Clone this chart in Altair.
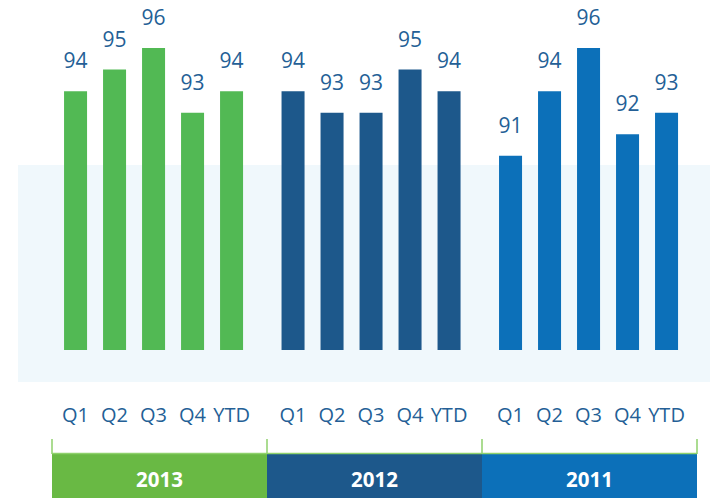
import altair as alt
import pandas as pd

years = ["2013", "2012", "2011"]
quarters = ["Q1", "Q2", "Q3", "Q4", "YTD"]
values_2013 = [94, 95, 96, 93, 94]
values_2012 = [94, 93, 93, 95, 94]
values_2011 = [91, 94, 96, 92, 93]
bar_colors = ["#52b954", "#1d588b", "#0c70b9"]
box_colors = ["#69b944", "#1d588b", "#0c70b9"]

rows = []
for y, vals in zip(years, [values_2013, values_2012, values_2011]):
    for q, v in zip(quarters, vals):
        rows.append({"year": y, "q": q, "value": v})
df = pd.DataFrame(rows)
ydf = pd.DataFrame({"year": years})

FONT = "Open Sans"
TXT = "#245f96"

x_bar = alt.X("year:N", sort=years, axis=None,
              scale=alt.Scale(range=[0, 645], paddingInner=0.1034,
                              paddingOuter=0.0345, align=0.27))
x_off = alt.XOffset("q:N", sort=quarters,
                    scale=alt.Scale(paddingInner=0.41, paddingOuter=0.205))
y_val = alt.Y("value:Q", axis=None,
              scale=alt.Scale(domain=[82, 96], range=[350, 48], nice=False, zero=False))

base = alt.Chart(df)

band_bg = alt.Chart(pd.DataFrame({"a": [0]})).mark_rect(color="#f0f8fc").encode(
    x=alt.value(-34), x2=alt.value(658), y=alt.value(165), y2=alt.value(382)
)

bars = base.mark_bar().encode(
    x=x_bar, xOffset=x_off, y=y_val, y2=alt.datum(82),
    color=alt.Color("year:N", sort=years, legend=None,
                    scale=alt.Scale(domain=years, range=bar_colors)),
)

labels = base.mark_text(font=FONT, fontSize=21, color=TXT, baseline="alphabetic", dy=-23).encode(
    x=x_bar, xOffset=x_off, y=y_val, text=alt.Text("value:Q")
)

qlabels = base.mark_text(font=FONT, fontSize=20, color=TXT, baseline="alphabetic").encode(
    x=x_bar, xOffset=x_off, y=alt.value(422), text="q:N"
)

x_box = alt.X("year:N", sort=years, axis=None,
              scale=alt.Scale(range=[0, 645], paddingInner=0, paddingOuter=0))

boxes = alt.Chart(ydf).mark_rect().encode(
    x=x_box, y=alt.value(454), y2=alt.value(498),
    color=alt.Color("year:N", sort=years, legend=None,
                    scale=alt.Scale(domain=years, range=box_colors)),
)

top_line = alt.Chart(pd.DataFrame({"a": [0]})).mark_rule(color="#8fd16c", strokeWidth=1.5).encode(
    x=alt.value(0), x2=alt.value(645), y=alt.value(453.5)
)

ticks = alt.Chart(ydf).mark_rule(color="#8fd16c", strokeWidth=1.5).encode(
    x=alt.X("year:N", sort=years, axis=None, bandPosition=0,
            scale=alt.Scale(range=[0, 645], paddingInner=0, paddingOuter=0)),
    y=alt.value(439), y2=alt.value(454),
)
end_tick = alt.Chart(ydf).transform_filter(alt.datum.year == "2011").mark_rule(
    color="#8fd16c", strokeWidth=1.5).encode(
    x=alt.X("year:N", sort=years, axis=None, bandPosition=1,
            scale=alt.Scale(range=[0, 645], paddingInner=0, paddingOuter=0)),
    y=alt.value(439), y2=alt.value(454),
)

year_text = alt.Chart(ydf).mark_text(font=FONT, fontSize=20.5, fontWeight="bold",
                                     color="white", baseline="alphabetic").encode(
    x=x_box, y=alt.value(487), text="year:N"
)

chart = alt.layer(
    band_bg, bars, labels, qlabels, boxes, top_line, ticks, end_tick, year_text
).resolve_scale(x="independent", color="independent").properties(
    width=645, height=498,
    padding={"left": 52, "right": 13, "top": 0, "bottom": 0},
    autosize=alt.AutoSizeParams(type="none"),
).configure_view(stroke=None)

chart.save("out.html", embed_options={"renderer": "svg", "actions": False})
